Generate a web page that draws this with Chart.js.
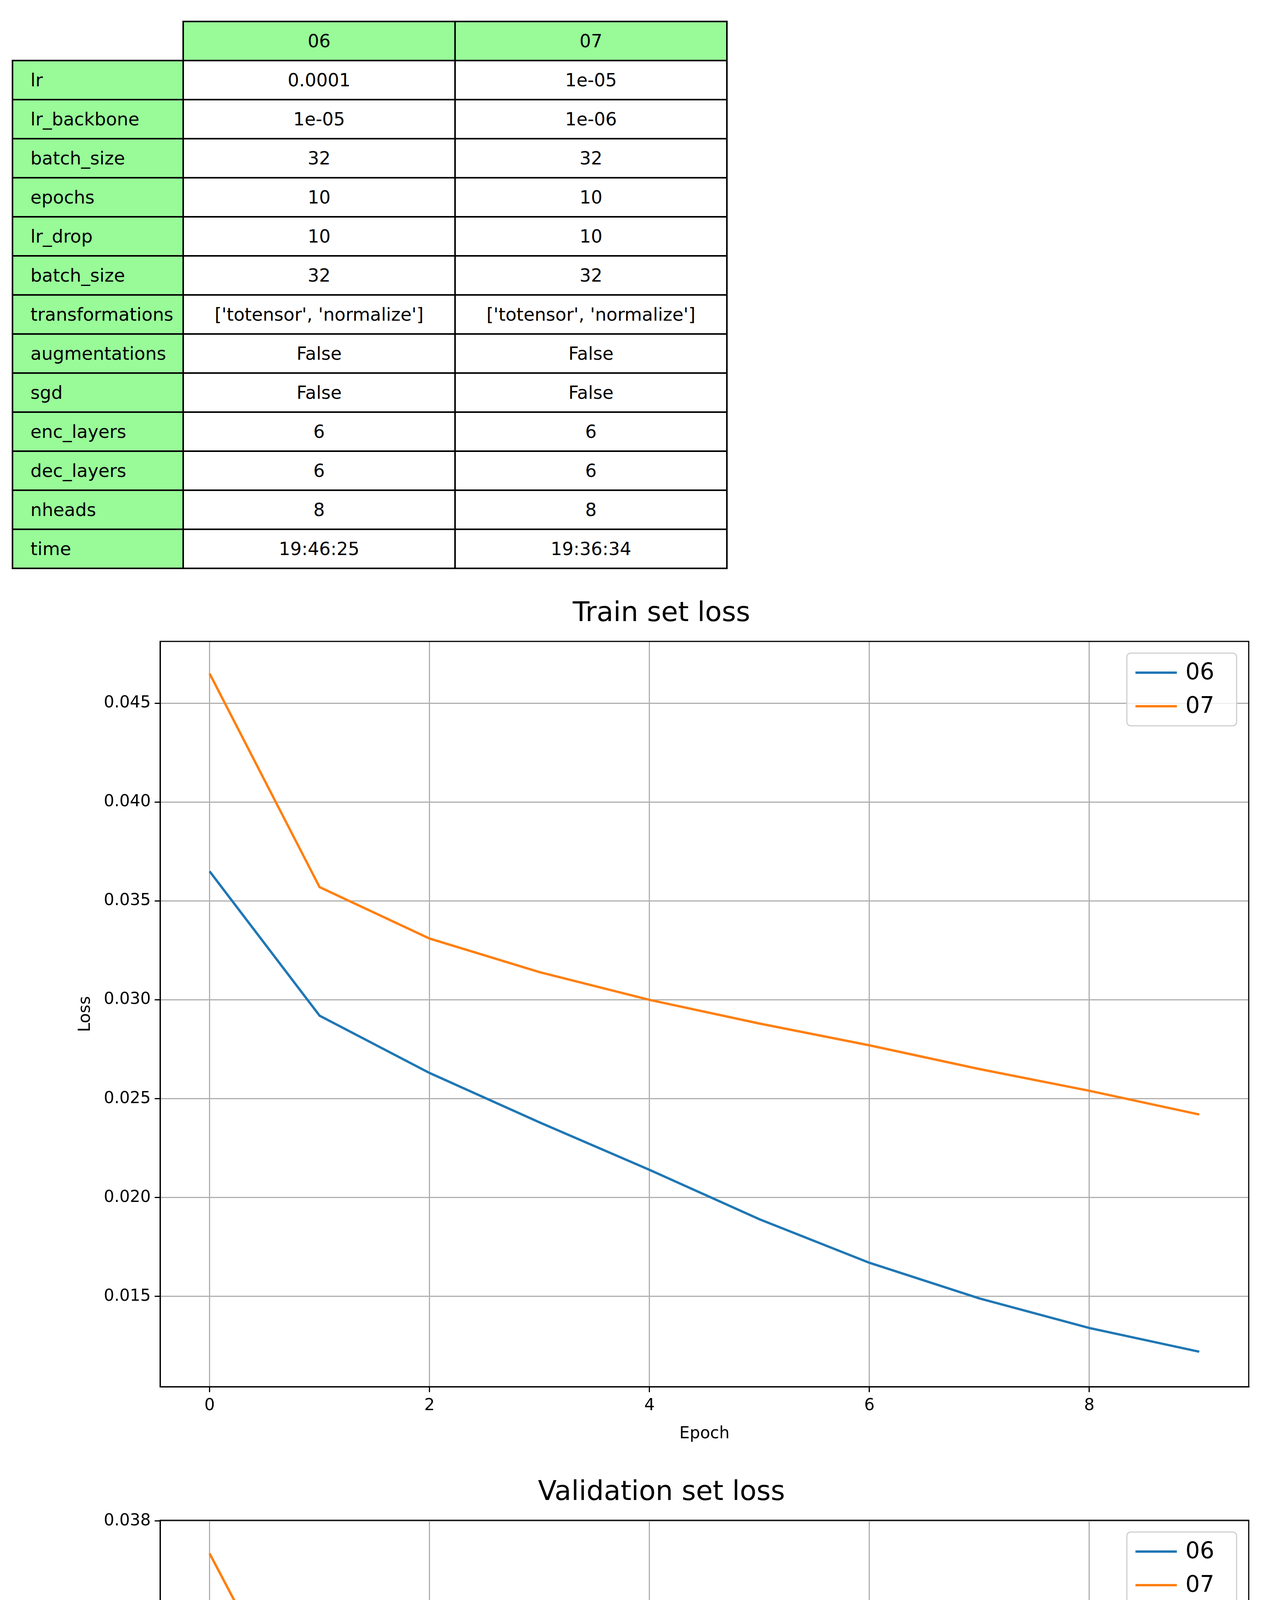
<!DOCTYPE html>
<html>
<head>
<meta charset="utf-8">
<script src="https://cdn.jsdelivr.net/npm/chart.js@4"></script>
<style>
body{margin:0;background:#fff;width:3231px;height:5964px;position:relative;font-family:"DejaVu Sans",sans-serif}
table{position:absolute;left:30px;top:53px;border-collapse:collapse;font-size:46px;table-layout:fixed;width:1829px}
td{border:4px solid #000;height:96px;text-align:center;padding:0}
td.k{background:#98fb98;text-align:left;padding-left:44px}
td.h{background:#98fb98}
td.e{border:none;background:none}
.c{position:absolute;left:0}
</style>
</head>
<body>
<table id="tbl"><colgroup><col style="width:437px"><col style="width:696px"><col style="width:696px"></colgroup></table>
<div class="c" style="top:1500px;width:3231px;height:2200px"><canvas id="train"></canvas></div>
<div class="c" style="top:3750px;width:3231px;height:2214px"><canvas id="val"></canvas></div>
<script>
// table
var runs = ['06', '07'];
var params = ['lr','lr_backbone','batch_size','epochs','lr_drop','batch_size','transformations','augmentations','sgd','enc_layers','dec_layers','nheads','time'];
var run06 = ['0.0001','1e-05','32','10','10','32',"['totensor', 'normalize']",'False','False','6','6','8','19:46:25'];
var run07 = ['1e-05','1e-06','32','10','10','32',"['totensor', 'normalize']",'False','False','6','6','8','19:36:34'];

// curves
var epochs = [0,1,2,3,4,5,6,7,8,9];
var xTicks = [0,2,4,6,8];
var train06 = [0.0365,0.0292,0.0263,0.0238,0.0214,0.0189,0.0167,0.0149,0.0134,0.0122];
var train07 = [0.0465,0.0357,0.0331,0.0314,0.0300,0.0288,0.0277,0.0265,0.0254,0.0242];
var trainTicks = [0.015,0.020,0.025,0.030,0.035,0.040,0.045];
var val06 = [0.03145,0.02952,0.02859,0.02893,0.02905,0.03043,0.03070,0.03190,0.03287,0.03305];
var val07 = [0.03757,0.03480,0.03322,0.03250,0.03225,0.03174,0.03196,0.03156,0.03226,0.03260];
var valTicks = [0.030,0.032,0.034,0.036,0.038];

var tbl = document.getElementById('tbl');
var h = '<tr><td class="e"></td><td class="h">' + runs[0] + '</td><td class="h">' + runs[1] + '</td></tr>';
for (var i = 0; i < params.length; i++) {
  h += '<tr><td class="k">' + params[i] + '</td><td>' + run06[i] + '</td><td>' + run07[i] + '</td></tr>';
}
tbl.insertAdjacentHTML('beforeend', h);

var FONT = '"DejaVu Sans", sans-serif';

var legendBox = {
  id: 'legendBox',
  afterDraw(chart) {
    var ctx = chart.ctx, a = chart.chartArea;
    var w = 281, hh = 186, x = a.right - 31 - w, y = a.top + 30;
    ctx.save();
    ctx.fillStyle = 'rgba(255,255,255,0.8)';
    ctx.strokeStyle = '#d0d0d0';
    ctx.lineWidth = 3;
    ctx.beginPath();
    ctx.roundRect(x, y, w, hh, 10);
    ctx.fill(); ctx.stroke();
    ctx.font = '58px ' + FONT;
    ctx.textBaseline = 'middle';
    chart.data.datasets.forEach(function (ds, k) {
      var ly = y + 50 + k * 86;
      ctx.strokeStyle = ds.borderColor;
      ctx.lineWidth = 6;
      ctx.beginPath(); ctx.moveTo(x + 22, ly); ctx.lineTo(x + 128, ly); ctx.stroke();
      ctx.fillStyle = '#000';
      ctx.fillText(ds.label, x + 150, ly + 2);
    });
    ctx.restore();
  }
};

function makeChart(id, title, a, b, yTicks, ymin, ymax, xh) {
  new Chart(document.getElementById(id), {
    type: 'line',
    data: {
      datasets: [
        { label: runs[0], data: epochs.map((e, i) => ({x: e, y: a[i]})), borderColor: '#1f77b4', borderWidth: 6, pointRadius: 0, tension: 0 },
        { label: runs[1], data: epochs.map((e, i) => ({x: e, y: b[i]})), borderColor: '#ff7f0e', borderWidth: 6, pointRadius: 0, tension: 0 }
      ]
    },
    options: {
      responsive: true, maintainAspectRatio: false, animation: false,
      devicePixelRatio: 1,
      layout: { padding: { left: 190, right: 34, top: 0, bottom: 0 } },
      plugins: {
        legend: { display: false },
        tooltip: { enabled: false },
        title: { display: true, text: title, color: '#000', font: { family: FONT, size: 70, weight: 'normal', lineHeight: 1.2 }, padding: { top: 30, bottom: 28 } }
      },
      scales: {
        x: {
          type: 'linear', min: -0.45, max: 9.45,
          afterBuildTicks: s => { s.ticks = xTicks.map(v => ({ value: v })); },
          afterFit: s => { s.height = xh; },
          grid: { color: '#b0b0b0', lineWidth: 3, drawTicks: true, tickLength: 14, tickColor: '#000' },
          border: { color: '#000', width: 3 },
          ticks: { color: '#000', font: { family: FONT, size: 42 }, padding: 10, maxRotation: 0 },
          title: { display: true, text: 'Epoch', color: '#000', font: { family: FONT, size: 42 }, padding: { top: 14 } }
        },
        y: {
          min: ymin, max: ymax,
          afterBuildTicks: s => { s.ticks = yTicks.map(v => ({ value: v })); },
          afterFit: s => { s.width = 220; },
          grid: { color: '#b0b0b0', lineWidth: 3, tickLength: 14, tickColor: '#000' },
          border: { color: '#000', width: 3 },
          ticks: { color: '#000', font: { family: FONT, size: 42 }, padding: 10, callback: v => v.toFixed(3) },
          title: { display: true, text: 'Loss', color: '#000', font: { family: FONT, size: 42 }, padding: { bottom: 0 } }
        }
      }
    },
    plugins: [legendBox, {
      id: 'frame',
      afterDraw(chart) {
        var c = chart.ctx, ar = chart.chartArea;
        c.save(); c.strokeStyle = '#000'; c.lineWidth = 3;
        c.strokeRect(ar.left, ar.top, ar.right - ar.left, ar.bottom - ar.top);
        c.restore();
      }
    }]
  });
}

makeChart('train', 'Train set loss', train06, train07, trainTicks, 0.01043, 0.04813, 150);
makeChart('val', 'Validation set loss', val06, val07, valTicks, 0.02815, 0.03801, 167);
</script>
</body>
</html>
